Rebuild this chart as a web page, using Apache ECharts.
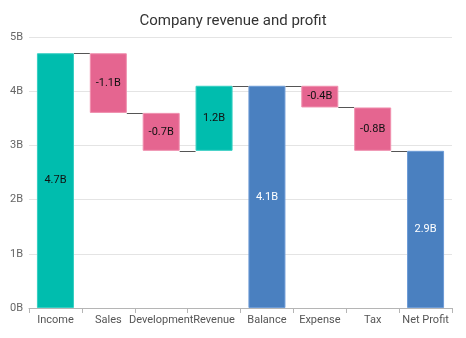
<!DOCTYPE html>
<html>
<head>
<meta charset="utf-8">
<script src="https://cdn.jsdelivr.net/npm/echarts@6/dist/echarts.min.js"></script>
<style>
  html, body { margin: 0; padding: 0; background: #fff; }
  #chart { width: 466px; height: 338px; }
</style>
</head>
<body>
<div id="chart"></div>
<script>
// Waterfall: each entry is a change, or a running total ("sum")
const categories = ['Income', 'Sales', 'Development', 'Revenue', 'Balance', 'Expense', 'Tax', 'Net Profit'];
const changes = [4.7, -1.1, -0.7, 1.2, null, -0.4, -0.8, null];
const isSum = [false, false, false, false, true, false, false, true];
const yTicks = [0, 1, 2, 3, 4, 5];

const COLOR_UP = '#00bdae';
const COLOR_DOWN = '#e56590';
const COLOR_SUM = '#4a80c0';

// Running totals -> bar bottoms, heights, signed values, end levels
const bases = [], heights = [], signed = [], ends = [], colors = [];
let running = 0;
categories.forEach((c, i) => {
  if (isSum[i]) {
    bases.push(0);
    heights.push(running);
    signed.push(running);
    colors.push(COLOR_SUM);
  } else {
    const start = running;
    const end = running + changes[i];
    bases.push(Math.min(start, end));
    heights.push(Math.abs(changes[i]));
    signed.push(changes[i]);
    colors.push(changes[i] >= 0 ? COLOR_UP : COLOR_DOWN);
    running = +end.toFixed(4);
  }
  ends.push(running);
});

const fmt = v => (+v.toFixed(2)) + 'B';
const barRatio = 0.7;

const chart = echarts.init(document.getElementById('chart'), null, { renderer: 'canvas' });
chart.setOption({
  animation: false,
  textStyle: { fontFamily: 'Roboto, "Open Sans", sans-serif' },
  title: {
    text: 'Company revenue and profit',
    left: 'center',
    top: 9,
    textStyle: { fontSize: 15, fontWeight: 'normal', color: '#333', fontFamily: 'Roboto, sans-serif' }
  },
  grid: { left: 29, right: 14, top: 37, bottom: 30, containLabel: false },
  xAxis: {
    type: 'category',
    data: categories,
    axisLine: { lineStyle: { color: '#b5b5b5' } },
    axisTick: { show: true, length: 5, lineStyle: { color: '#b5b5b5' } },
    axisLabel: { color: '#555', fontSize: 11, margin: 7, interval: 0 }
  },
  yAxis: {
    type: 'value',
    min: yTicks[0],
    max: yTicks[yTicks.length - 1],
    interval: 1,
    axisLine: { show: false },
    axisTick: { show: false },
    axisLabel: { color: '#666', fontSize: 11, margin: 6, formatter: v => v + 'B' },
    splitLine: { lineStyle: { color: '#e4e4e4' } }
  },
  series: [
    {
      name: 'base',
      type: 'bar',
      stack: 'w',
      barWidth: (barRatio * 100) + '%',
      itemStyle: { color: 'transparent' },
      emphasis: { disabled: true },
      silent: true,
      data: bases
    },
    {
      name: 'value',
      type: 'bar',
      stack: 'w',
      barWidth: (barRatio * 100) + '%',
      data: heights.map((h, i) => ({
        value: h,
        itemStyle: {
          color: colors[i],
          borderColor: colors[i] === COLOR_SUM ? '#6d9bd6' : (colors[i] === COLOR_DOWN ? '#f08fae' : '#33cfc2'),
          borderWidth: 1
        },
        label: {
          show: true,
          position: 'inside',
          color: colors[i] === COLOR_SUM ? '#fff' : '#111',
          fontSize: 11,
          formatter: () => fmt(signed[i])
        }
      }))
    },
    {
      // connector lines between consecutive bars
      name: 'connector',
      type: 'custom',
      silent: true,
      z: 3,
      data: ends.slice(0, -1).map((v, i) => [i, v]),
      renderItem: (params, api) => {
        const i = api.value(0);
        const level = api.value(1);
        const band = api.size([1, 0])[0];
        const half = band * barRatio / 2;
        const p0 = api.coord([i, level]);
        const p1 = api.coord([i + 1, level]);
        const y = Math.round(p0[1]) + 0.5;
        return {
          type: 'line',
          shape: { x1: p0[0] + half, y1: y, x2: p1[0] - half, y2: y },
          style: { stroke: '#555', lineWidth: 1 }
        };
      }
    }
  ]
});
</script>
</body>
</html>
